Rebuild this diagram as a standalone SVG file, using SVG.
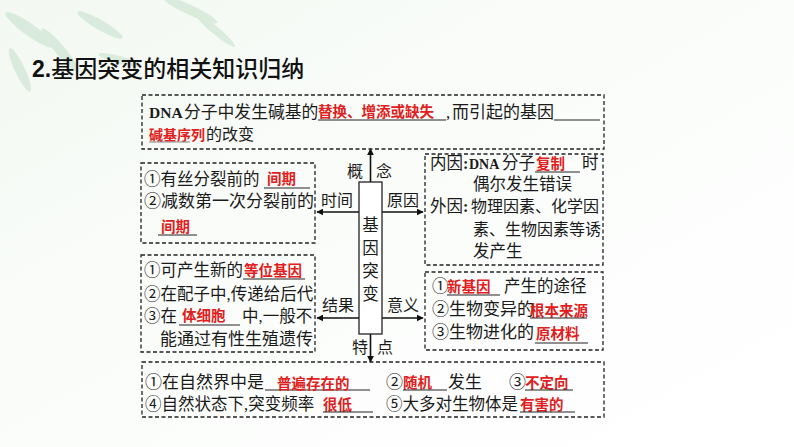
<svg xmlns="http://www.w3.org/2000/svg" width="794" height="447" viewBox="0 0 794 447">
<defs>
<style>
.t{font-family:"Liberation Serif","Noto Sans CJK SC",serif;font-size:16.5px;fill:#1a1a1a}
.r{font-family:"Liberation Serif","Noto Sans CJK SC",serif;font-size:14.5px;fill:#e02020;font-weight:bold}
.b{font-family:"Liberation Serif",serif;font-weight:bold;fill:#1a1a1a}
.box{fill:none;stroke:#222;stroke-width:1.3;stroke-dasharray:4 2.5}
.u{stroke:#222;stroke-width:1}
.a{stroke:#111;stroke-width:1.6;fill:none;marker-end:url(#ah)}
</style>
<marker id="ah" viewBox="0 0 10 10" refX="9" refY="5" markerWidth="7" markerHeight="7" markerUnits="userSpaceOnUse" orient="auto">
<path d="M0,0 L10,5 L0,10 z" fill="#111"/>
</marker>
<linearGradient id="bg" x1="0" y1="0" x2="1" y2="1">
<stop offset="0" stop-color="#f3f8f2"/>
<stop offset="0.5" stop-color="#fbfdfb"/>
<stop offset="1" stop-color="#ffffff"/>
</linearGradient>
</defs>
<rect x="0" y="0" width="794" height="447" fill="url(#bg)"/>
<g opacity="0.25" fill="#8cc49a">
<ellipse cx="30" cy="30" rx="30" ry="6" transform="rotate(35 30 30)"/>
<ellipse cx="60" cy="50" rx="28" ry="5" transform="rotate(50 60 50)"/>
<ellipse cx="100" cy="25" rx="26" ry="5" transform="rotate(30 100 25)"/>
<ellipse cx="20" cy="70" rx="24" ry="5" transform="rotate(65 20 70)"/>
<ellipse cx="190" cy="10" rx="30" ry="5" transform="rotate(25 190 10)"/>
<ellipse cx="215" cy="30" rx="26" ry="4" transform="rotate(40 215 30)"/>
<ellipse cx="120" cy="60" rx="22" ry="4" transform="rotate(15 120 60)"/>
</g>
<g id="title">
<text x="32" y="77" style="font-family:'Liberation Sans','Noto Sans CJK SC',sans-serif;font-size:23px;font-weight:bold;fill:#111">2.<tspan style="font-weight:500">基因突变的相关知识归纳</tspan></text>
</g>
<g id="connectors">
<line class="a" x1="370.5" y1="182" x2="370.5" y2="149"/>
<line class="a" x1="370.5" y1="334" x2="370.5" y2="362"/>
<line class="a" x1="359" y1="212" x2="317" y2="212"/>
<line class="a" x1="382" y1="212" x2="423" y2="212"/>
<line class="a" x1="359" y1="318" x2="317" y2="318"/>
<line class="a" x1="382" y1="318" x2="423" y2="318"/>
</g>
<g id="center">
<rect x="359" y="182" width="23" height="152" fill="#fff" stroke="#222" stroke-width="1.3"/>
<text class="t" x="370.5" y="231" text-anchor="middle">基</text>
<text class="t" x="370.5" y="254" text-anchor="middle">因</text>
<text class="t" x="370.5" y="277" text-anchor="middle">突</text>
<text class="t" x="370.5" y="300" text-anchor="middle">变</text>
</g>
<g id="labels">
<text class="t" x="347" y="177" style="font-size:16px">概</text>
<text class="t" x="376" y="177" style="font-size:16px">念</text>
<text class="t" x="321" y="206" style="font-size:16px">时间</text>
<text class="t" x="387" y="206" style="font-size:16px">原因</text>
<text class="t" x="322" y="311" style="font-size:16px">结果</text>
<text class="t" x="387" y="311" style="font-size:16px">意义</text>
<text class="t" x="352" y="353" style="font-size:16px">特</text>
<text class="t" x="377" y="353" style="font-size:16px">点</text>
</g>
<g id="concept">
<rect class="box" x="142" y="95" width="462" height="54"/>
<text class="b" x="149" y="118" style="font-size:15.5px">DNA</text>
<text class="t" x="184" y="118" style="font-size:16.8px">分子中发生碱基的</text>
<text class="r" x="318" y="117">替换、增添或缺失</text>
<line class="u" x1="318" y1="120" x2="446" y2="120"/>
<text class="t" x="446" y="118" style="font-size:17px">,</text>
<text class="t" x="452" y="118" style="font-size:17px">而引起的基因</text>
<line class="u" x1="554" y1="120" x2="600" y2="120"/>
<text class="r" x="149" y="140" style="font-size:14px">碱基序列</text>
<line class="u" x1="149" y1="142" x2="190" y2="142" style="stroke:#888"/>
<text class="t" x="206" y="140" style="font-size:16px">的改变</text>
</g>
<g id="time">
<rect class="box" x="141" y="163" width="174" height="80"/>
<text class="t" x="144" y="185">①有丝分裂前的</text>
<text class="r" x="267" y="184">间期</text>
<line class="u" x1="264" y1="188" x2="310" y2="188"/>
<text class="t" x="144" y="207" style="font-size:17px">②减数第一次分裂前的</text>
<text class="r" x="161" y="232">间期</text>
<line class="u" x1="158" y1="235" x2="197" y2="235"/>
</g>
<g id="cause">
<rect class="box" x="425" y="154" width="178" height="111"/>
<text class="t" x="430" y="169">内因</text>
<text class="b" x="463" y="169" style="font-size:16px">:</text>
<text class="b" x="469" y="169" style="font-size:14px">DNA</text>
<text class="t" x="502" y="169">分子</text>
<text class="r" x="536" y="169">复制</text>
<line class="u" x1="535" y1="172" x2="580" y2="172"/>
<text class="t" x="582" y="169">时</text>
<text class="t" x="473" y="190">偶尔发生错误</text>
<text class="t" x="430" y="212">外因</text>
<text class="b" x="463" y="212" style="font-size:16px">:</text>
<text class="t" x="471" y="212" style="font-size:16px">物理因素、化学因</text>
<text class="t" x="473" y="235" style="font-size:16px">素、生物因素等诱</text>
<text class="t" x="473" y="257">发产生</text>
</g>
<g id="result">
<rect class="box" x="141" y="255" width="174" height="97"/>
<text class="t" x="144" y="276">①可产生新的</text>
<text class="r" x="244" y="276">等位基因</text>
<line class="u" x1="243" y1="279" x2="305" y2="279"/>
<text class="t" x="144" y="300">②在配子中,传递给后代</text>
<text class="t" x="144" y="322">③在</text>
<text class="r" x="182" y="321">体细胞</text>
<line class="u" x1="179" y1="325" x2="240" y2="325"/>
<text class="t" x="242" y="322">中,一般不</text>
<text class="t" x="160" y="345" style="font-size:17px">能通过有性生殖遗传</text>
</g>
<g id="meaning">
<rect class="box" x="425" y="272" width="178" height="78"/>
<text class="t" x="432" y="292">①</text>
<text class="r" x="447" y="292">新基因</text>
<line class="u" x1="447" y1="295" x2="500" y2="295"/>
<text class="t" x="504" y="292">产生的途径</text>
<text class="t" x="432" y="315" style="font-size:17px">②生物变异的</text>
<text class="r" x="530" y="316">根本来源</text>
<line class="u" x1="530" y1="318" x2="587" y2="318"/>
<text class="t" x="432" y="338" style="font-size:17px">③生物进化的</text>
<text class="r" x="536" y="339">原材料</text>
<line class="u" x1="535" y1="343" x2="588" y2="343"/>
</g>
<g id="features">
<rect class="box" x="142" y="362" width="462" height="55"/>
<text class="t" x="145" y="388" style="font-size:17px">①在自然界中是</text>
<line class="u" x1="265" y1="390" x2="370" y2="390"/>
<text class="r" x="277" y="389">普遍存在的</text>
<text class="t" x="386" y="388" style="font-size:17px">②</text>
<text class="r" x="403" y="388">随机</text>
<line class="u" x1="403" y1="390" x2="447" y2="390"/>
<text class="t" x="448" y="388" style="font-size:17px">发生</text>
<text class="t" x="509" y="388" style="font-size:17px">③</text>
<text class="r" x="525" y="388">不定向</text>
<line class="u" x1="525" y1="390" x2="573" y2="390"/>
<text class="t" x="145" y="410">④自然状态下,突变频率</text>
<text class="r" x="323" y="410">很低</text>
<line class="u" x1="323" y1="412" x2="373" y2="412"/>
<text class="t" x="386" y="410">⑤大多对生物体是</text>
<text class="r" x="520" y="410">有害的</text>
<line class="u" x1="520" y1="412" x2="575" y2="412"/>
</g>
</svg>
